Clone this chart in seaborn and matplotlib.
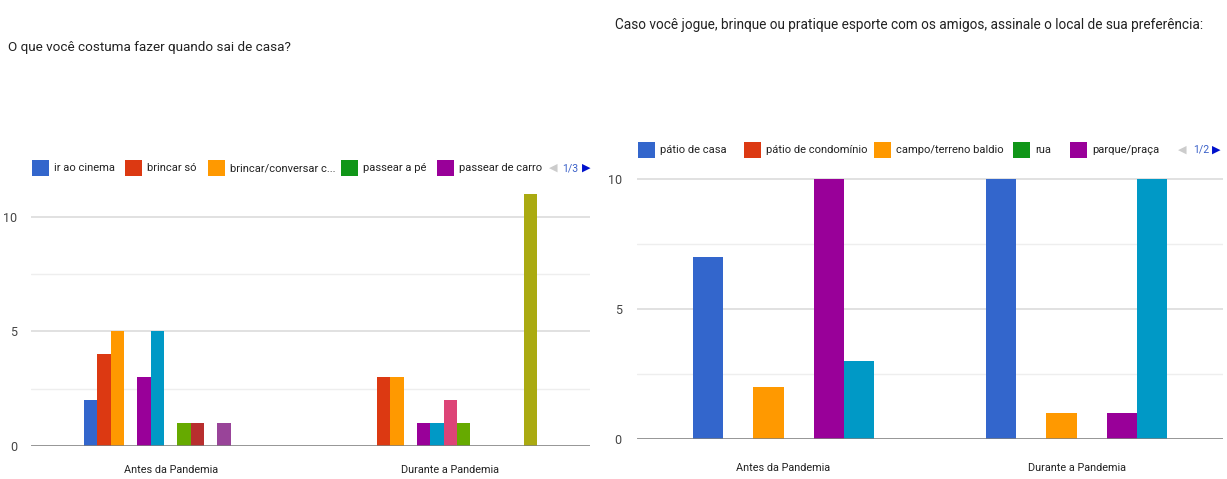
import matplotlib
matplotlib.use("Agg")
import matplotlib.pyplot as plt
from matplotlib.patches import Rectangle
import seaborn as sns
import pandas as pd

# ---------------- data ----------------
groups = ["Antes da Pandemia", "Durante a Pandemia"]

# Left chart: "O que você costuma fazer quando sai de casa?" (13 series, legend page 1/3)
left_series = ["ir ao cinema", "brincar só", "brincar/conversar c...", "passear a pé",
               "passear de carro", "opção 6", "opção 7", "opção 8", "opção 9",
               "opção 10", "opção 11", "opção 12", "opção 13"]
left_antes = [2, 4, 5, 0, 3, 5, 0, 1, 1, 0, 1, 0, 0]
left_durante = [0, 3, 3, 0, 1, 1, 2, 1, 0, 0, 0, 0, 11]
left_legend_shown = 5
left_page = "1/3"

# Right chart: "Caso você jogue, brinque ou pratique esporte..." (6 series, legend page 1/2)
right_series = ["pátio de casa", "pátio de condomínio", "campo/terreno baldio", "rua",
                "parque/praça", "opção 6"]
right_antes = [7, 0, 2, 0, 10, 3]
right_durante = [10, 0, 1, 0, 1, 10]
right_legend_shown = 5
right_page = "1/2"

left_title = "O que você costuma fazer quando sai de casa?"
right_title = ("Caso você jogue, brinque ou pratique esporte com os amigos, "
               "assinale o local de sua preferência:")

google = ["#3366cc", "#dc3912", "#ff9900", "#109618", "#990099", "#0099c6",
          "#dd4477", "#66aa00", "#b82e2e", "#316395", "#994499", "#22aa99",
          "#aaaa11"]

# ---------------- styling ----------------
sns.set_style("white")
FONT = ["Roboto", "DejaVu Sans"]
plt.rcParams["font.family"] = FONT

W, H = 1227, 479
fig = plt.figure(figsize=(W / 100, H / 100), dpi=100)


def fx(px):
    return px / W


def fy(py):
    return 1 - py / H


def make_df(series, antes, durante):
    rows = []
    for s, a, d in zip(series, antes, durante):
        rows.append({"grupo": groups[0], "serie": s, "valor": a})
        rows.append({"grupo": groups[1], "serie": s, "valor": d})
    return pd.DataFrame(rows)


def draw_chart(ax, df, series, ymax, ylab_pad, xlab_pad):
    sns.barplot(data=df, x="grupo", y="valor", hue="serie", hue_order=series,
                order=groups, palette=google[:len(series)], width=0.62,
                dodge=True, legend=False, ax=ax, saturation=1, errorbar=None,
                linewidth=0)
    ax.set_xlim(-0.5, 1.5)
    ax.set_ylim(0, ymax)
    ax.set_yticks([0, 5, 10])
    ax.set_yticklabels(["0", "5", "10"])
    ax.set_yticks([2.5, 7.5], minor=True)
    ax.grid(True, axis="y", which="major", color="#dcdcdc", lw=1.2, zorder=0)
    ax.grid(True, axis="y", which="minor", color="#eeeeee", lw=1.0, zorder=0)
    ax.grid(False, axis="x")
    ax.set_axisbelow(True)
    for sp in ax.spines.values():
        sp.set_visible(False)
    ax.axhline(0, color="#808080", lw=1.8, zorder=5)
    ax.set_xlabel("")
    ax.set_ylabel("")
    ax.tick_params(axis="y", which="both", length=0, pad=ylab_pad,
                   labelsize=9, labelcolor="#444444")
    ax.tick_params(axis="x", length=0, pad=xlab_pad, labelsize=7.8,
                   labelcolor="#222222")


def draw_legend(series, n_shown, sq_x, yc, page, pager_c):
    for i in range(n_shown):
        x = sq_x[i]
        fig.patches.append(Rectangle((fx(x), fy(yc + 8)), 17 / W, 16 / H,
                                     transform=fig.transFigure,
                                     facecolor=google[i], edgecolor="none"))
        fig.text(fx(x + 22), fy(yc), series[i], fontsize=8.0, color="#222222",
                 va="center", ha="left")
    fig.text(fx(pager_c[0]), fy(yc), "◀", fontsize=8, color="#cccccc",
             va="center", ha="center", family=["DejaVu Sans"])
    fig.text(fx(pager_c[1]), fy(yc), page, fontsize=7.6, color="#3a60c8",
             va="center", ha="center")
    fig.text(fx(pager_c[2]), fy(yc), "▶", fontsize=8, color="#0011cc",
             va="center", ha="center", family=["DejaVu Sans"])


# Left chart
axL = fig.add_axes([fx(31), fy(446), fx(590) - fx(31), (446 - 187) / H])
draw_chart(axL, make_df(left_series, left_antes, left_durante), left_series,
           11.3, 10, 14)
draw_legend(left_series, left_legend_shown, [32, 125, 208, 341, 437], 168,
            left_page, (553, 570, 586))
fig.text(fx(8), fy(47), left_title, fontsize=9.7, color="#222222",
         va="center", ha="left")

# Right chart
axR = fig.add_axes([fx(637), fy(439), fx(1223) - fx(637), (439 - 178) / H])
draw_chart(axR, make_df(right_series, right_antes, right_durante), right_series,
           10.05, 11, 17)
draw_legend(right_series, right_legend_shown, [638, 744, 874, 1013, 1070], 150,
            right_page, (1182, 1201, 1216))
fig.text(fx(615), fy(25), right_title, fontsize=9.8, color="#222222",
         va="center", ha="left")

fig.savefig("out.png", dpi=100, facecolor="white")
